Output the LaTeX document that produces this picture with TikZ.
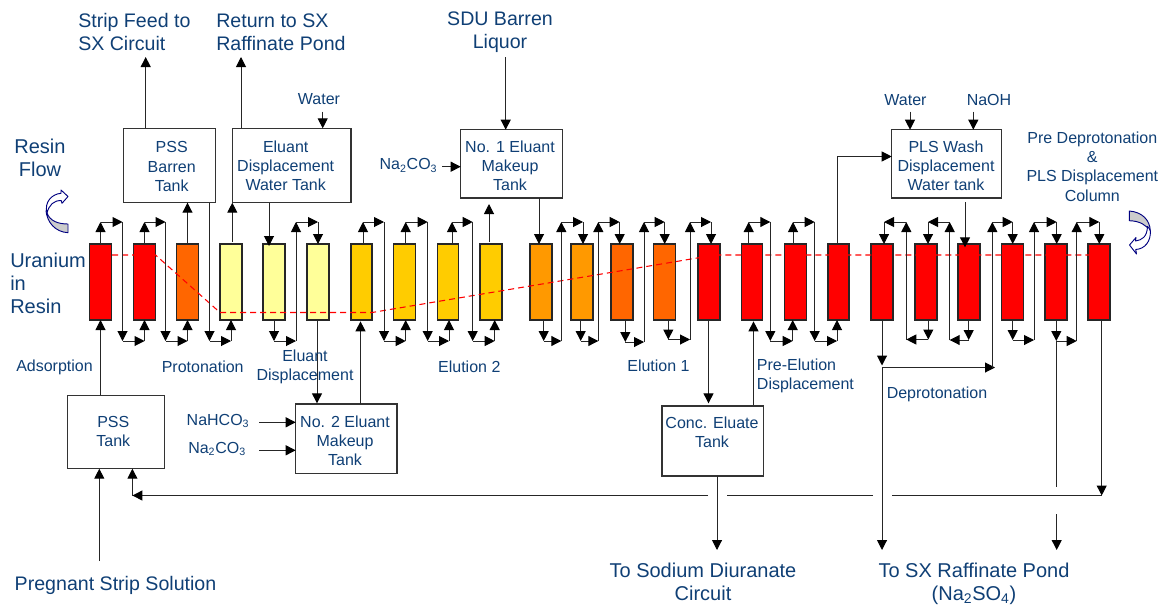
\documentclass[tikz,border=0pt]{standalone}
\usepackage{fontspec}
\setmainfont{Liberation Sans}
\usetikzlibrary{arrows.meta}
\definecolor{lbl}{HTML}{0F3F75}
\definecolor{cOne}{HTML}{FF0000}
\definecolor{cTwo}{HTML}{FF6600}
\definecolor{cThree}{HTML}{FF9900}
\definecolor{cFour}{HTML}{FFCC00}
\definecolor{cFive}{HTML}{FFFF99}
\definecolor{ribbon}{HTML}{CCCCCC}
\definecolor{navy}{HTML}{000080}
\tikzset{
  seg/.style={draw=black!85,line width=0.75pt,-{Triangle[length=7.5pt,width=7.5pt,fill=black,color=black]}},
  plainseg/.style={draw=black!85,line width=0.75pt},
  colbox/.style={draw=black!85,line width=0.85pt,inner sep=0pt,outer sep=0pt,minimum height=57pt},
  tankbox/.style={draw=black!80,fill=white,line width=0.8pt,inner sep=0pt,outer sep=0pt},
  big/.style={text=lbl,align=center,inner sep=0pt,font=\fontsize{15}{17.25}\selectfont},
  bigb/.style={text=lbl,align=center,inner sep=0pt,font=\fontsize{14.7}{17.25}\selectfont},
  small/.style={text=lbl,align=center,inner sep=0pt,font=\fontsize{12}{14.4}\selectfont},
  curve/.style={draw=navy,line width=0.7pt,line join=round}
}
\newcommand{\resincol}[4]{\node[colbox,fill=#4,minimum width={(#3-#2)*0.75pt}] (#1) at ({(#2+#3)/2},282) {};}
\newcommand{\tank}[5]{\node[tankbox,minimum width={(#4-#2)*0.75pt},minimum height={(#5-#3)*0.75pt}] (#1) at ({(#2+#4)/2},{(#3+#5)/2}) {};}
% top of #1 -> over -> down -> bottom of #5
\newcommand{\overlink}[4]{%
  \draw[seg] (#2,0 |- #1.north) -- (#2,222);
  \draw[seg] (#2,222) -- (#3,222);
  \draw[seg] (#3,222) -- (#3,341);
  \draw[seg] (#3,341) -- (#4,341);}
% bottom of #1 -> under -> up -> top of next
\newcommand{\underlink}[6]{%
  \draw[seg] (#2,0 |- #1.south) -- (#2,#6);
  \draw[seg] (#2,#6) -- (#3,#6);
  \draw[seg] (#3,#6) -- (#3,222);
  \draw[seg] (#3,222) -- (#4,222);
  \draw[seg] (#4,222) -- (#4,0 |- #5.north);}
\begin{document}
\begin{tikzpicture}[x=0.75pt,y=-0.75pt]
\useasboundingbox (0,0) rectangle (1169,604);
% columns
\resincol{c1}{89.5}{111.5}{cOne}
\resincol{c2}{133.5}{155.5}{cOne}
\resincol{c3}{176.5}{198.5}{cTwo}
\resincol{c4}{220}{242}{cFive}
\resincol{c5}{263}{285}{cFive}
\resincol{c6}{307}{329}{cFive}
\resincol{c7}{351}{372}{cFour}
\resincol{c8}{393.5}{415.5}{cFour}
\resincol{c9}{437.5}{458.5}{cFour}
\resincol{c10}{480}{502}{cFour}
\resincol{c11}{530}{552}{cThree}
\resincol{c12}{571}{593}{cThree}
\resincol{c13}{611}{633}{cTwo}
\resincol{c14}{653.5}{675.5}{cTwo}
\resincol{c15}{698}{720}{cOne}
\resincol{c16}{741.5}{762.5}{cOne}
\resincol{c17}{784.5}{806.5}{cOne}
\resincol{c18}{828}{849}{cOne}
\resincol{c19}{871}{893}{cOne}
\resincol{c20}{915}{937}{cOne}
\resincol{c21}{958}{980}{cOne}
\resincol{c22}{1001.5}{1023.5}{cOne}
\resincol{c23}{1045}{1067}{cOne}
\resincol{c24}{1088}{1110}{cOne}
% tanks
\tank{pbt}{123.7}{128.3}{215.3}{202.7}
\tank{edt}{232.3}{128.3}{351}{202.7}
\tank{no1}{460.7}{129.7}{562.3}{198}
\tank{pls}{891.7}{129.7}{1001.7}{198}
\tank{pss}{67.7}{395.3}{164.3}{468.7}
\tank{no2}{295.7}{404}{397}{473.7}
\tank{con}{662}{406}{763.7}{476}
% dashed profile
\coordinate (d1) at (112,255);
\coordinate (d2) at (155.5,255);
\coordinate (d3) at (220,312.5);
\coordinate (d4) at (372,312.5);
\coordinate (d5) at (715,255);
\coordinate (d6) at (1100,255);
\draw[cOne,line width=0.8pt,dash pattern=on 4.5pt off 3pt] (d1) -- (d2) -- (d3) -- (d4) -- (d5) -- (d6);
% column to column links
\overlink{c1}{100.5}{122.5}{144.5}
\draw[seg] (144.5,341) -- (144.5,0 |- c2.south);
\overlink{c2}{144.5}{165.5}{187.5}
\draw[seg] (187.5,341) -- (187.5,0 |- c3.south);
\draw[seg] (187.5,0 |- c3.north) -- (187.5,0 |- pbt.south);
\draw[seg] (209.5,0 |- pbt.south) -- (209.5,341);
\draw[seg] (209.5,341) -- (231,341);
\draw[seg] (231,341) -- (231,0 |- c4.south);
\draw[seg,shorten <=1.5pt] (232.3,0 |- c4.north) -- (232.3,0 |- edt.south);
\draw[seg,shorten >=-1.5pt] (269,0 |- edt.south) -- (269,0 |- c5.north);
\underlink{c5}{274}{296}{318}{c6}{341}
\draw[seg,shorten >=0.5pt] (317,0 |- c6.south) -- (317,0 |- no2.north);
\draw[seg,shorten >=1pt] (360.5,0 |- no2.north) -- (360.5,0 |- c7.south);
\overlink{c7}{363}{384}{405.7}
\draw[seg] (405.7,341) -- (405.7,0 |- c8.south);
\overlink{c8}{405.7}{427.7}{449}
\draw[seg] (449,341) -- (449,0 |- c9.south);
\overlink{c9}{452}{472.7}{494.7}
\draw[seg] (494.7,341) -- (494.7,0 |- c10.south);
\draw[seg,shorten <=1.5pt,shorten >=4.5pt] (489,0 |- c10.north) -- (489,0 |- no1.south);
\draw[seg] (539,0 |- no1.south) -- (539,0 |- c11.north);
\underlink{c11}{543.7}{561.3}{583}{c12}{341}
\underlink{c12}{580.7}{598.3}{619.7}{c13}{341}
\underlink{c13}{625.3}{644}{664.7}{c14}{342}
\underlink{c14}{668.3}{690}{711}{c15}{339.5}
\draw[seg,shorten >=2pt] (708.5,0 |- c15.south) -- (708.5,0 |- con.north);
\draw[seg,shorten <=1pt,shorten >=1pt] (753.5,0 |- con.north) -- (753.5,0 |- c16.south);
\overlink{c16}{748.7}{770.3}{792.7}
\draw[seg] (792.7,341) -- (792.7,0 |- c17.south);
\overlink{c17}{793}{814.7}{837}
\draw[seg] (837,341) -- (837,0 |- c18.south);
\draw[plainseg] (837,0 |- c18.north) |- (pls.west |- 0,156.5) coordinate (plsin);
\draw[seg] (845,156.5) -- (plsin);
\underlink{c20}{928.3}{906.3}{884}{c19}{339.5}
\underlink{c21}{968.7}{949.7}{928}{c20}{340}
\draw[seg,shorten >=-2.5pt,shorten <=3pt] (965,0 |- pls.south) -- (965,0 |- c21.north);
\coordinate (split) at (882,367.5);
\draw[seg,shorten >=1.5pt] (882,0 |- c19.south) -- (split);
\draw[seg] (split) -- (882,550);
\draw[seg] (split) -- (995,367.5);
\draw[seg] (992.3,367.5) -- (992.3,222);
\draw[seg] (992.3,222) -- (1012.7,222);
\draw[seg] (1012.7,222) -- (1012.7,0 |- c22.north);
\underlink{c22}{1012.7}{1034}{1056.7}{c23}{340}
\underlink{c23}{1056.3}{1076.7}{1099.3}{c24}{341}
% bottom return
\coordinate (drop) at (1056.7,341);
\coordinate (dropa) at (1056.7,487);
\coordinate (dropb) at (1056.7,514);
\coordinate (dropc) at (1056.7,550);
\draw[plainseg] (drop) -- (dropa);
\draw[seg] (dropb) -- (dropc);
\coordinate (retr) at (1101.7,495.5);
\draw[seg] (1101.7,0 |- c24.south) -- (retr);
\draw[plainseg] (retr) -- (891.7,495.5);
\draw[plainseg] (873,495.5) -- (727,495.5);
\coordinate (retl) at (132.4,495.5);
\draw[seg] (708,495.5) -- (retl);
\draw[seg] (retl) -- (132.4,0 |- pss.south);
\draw[seg] (717,0 |- con.south) -- (717,550);
\draw[seg] (100.5,0 |- pss.north) -- (100.5,0 |- c1.south);
\coordinate (pregs) at (99.3,561);
\draw[seg] (pregs) -- (pregs |- pss.south);
% tank outlets and feeds
\draw[seg] (145.7,0 |- pbt.north) -- (145.7,57);
\draw[seg] (241,0 |- edt.north) -- (241,57);
\coordinate (wa) at (322.7,111.7);
\draw[seg] (wa) -- (wa |- edt.north);
\coordinate (sdu) at (505.7,57);
\draw[seg] (sdu) -- (sdu |- no1.north);
\coordinate (nac) at (442.3,166.7);
\draw[seg] (nac) -- (nac -| no1.west);
\coordinate (wb) at (910,111.7);
\draw[seg] (wb) -- (wb |- pls.north);
\coordinate (nh) at (973.3,111.7);
\draw[seg] (nh) -- (nh |- pls.north);
\coordinate (fa) at (259.3,422.3);
\draw[seg] (fa) -- (fa -| no2.west);
\coordinate (fb) at (259.3,450.3);
\draw[seg] (fb) -- (fb -| no2.west);
% resin flow arrows
\draw[curve,fill=ribbon] (46,210.7) .. controls (47,222) and (55,232) .. (68,232.7) -- (68,224) .. controls (58,224) and (50,221) .. (47,213) -- cycle;
\draw[curve,fill=white] (47,213) .. controls (44,202) and (52,194) .. (61,193.3) -- (61,190) -- (68,196.5) -- (62,203.3) -- (61.3,200.7) .. controls (54,200) and (49,205) .. (47,213) -- cycle;
\draw[curve,fill=ribbon] (1129.3,211) .. controls (1142,212) and (1150,220) .. (1150.3,231) .. controls (1146,225) and (1140,221) .. (1129.3,220.7) -- cycle;
\draw[curve,fill=white] (1150.3,231) .. controls (1151,241) and (1145,249) .. (1135.7,249.5) -- (1136.5,254) -- (1129.5,245) -- (1136,237.5) -- (1135.5,241) .. controls (1142,240) and (1147,237) .. (1147.5,226.5) .. controls (1149,228) and (1150,229.5) .. (1150.3,231) -- cycle;
% labels
\node[bigb,anchor=west] (t1) at (78,34) {\begin{tabular}{@{}l@{}}Strip Feed to\\SX Circuit\end{tabular}};
\node[bigb,anchor=west] (t2) at (216,34) {\begin{tabular}{@{}l@{}}Return to SX\\Raffinate Pond\end{tabular}};
\node[bigb] (t3) at (500,32) {SDU Barren\\Liquor};
\node[big] (t4) at (40,157.5) {Resin\\Flow};
\node[big,align=left,anchor=west] (t5) at (10,283) {Uranium\\in\\Resin};
\node[bigb] (t6) at (115.5,585) {Pregnant Strip Solution};
\node[big] (t7) at (703,581.5) {To Sodium Diuranate\\Circuit};
\node[big] (t8) at (974,583.5) {To SX Raffinate Pond\\(Na\textsubscript{2}SO\textsubscript{4})};
\node[small] (s1) at (319,99.5) {Water};
\node[small] (s2) at (171.7,166.5) {PSS\\Barren\\Tank};
\node[small] (s3) at (285.7,165.5) {Eluant\\Displacement\\Water Tank};
\node[small] (s4) at (408.5,165.5) {Na\textsubscript{2}CO\textsubscript{3}};
\node[small] (s5) at (510,165.5) {No. 1 Eluant\\Makeup\\Tank};
\node[small] (s6) at (905.5,99.7) {Water};
\node[small] (s7) at (989,99.7) {NaOH};
\node[small] (s8) at (946,165.5) {PLS Wash\\Displacement\\Water tank};
\node[small] (s9) at (1092.3,166.5) {Pre Deprotonation\\\&\\PLS Displacement\\Column};
\node[small] (s10) at (54.5,367) {Adsorption};
\node[small] (s11) at (202.7,367) {Protonation};
\node[small] (s12) at (305,367) {Eluant\\Displacement};
\node[small] (s13) at (469.3,366.5) {Elution 2};
\node[small] (s14) at (658.5,366) {Elution 1};
\node[small,align=left,anchor=west] (s15) at (756.7,376) {Pre-Elution\\Displacement};
\node[small] (s16) at (937,394) {Deprotonation};
\node[small] (s17) at (712,432.5) {Conc. Eluate\\Tank};
\node[small] (s18) at (113.3,431.5) {PSS\\Tank};
\node[small] (s19) at (218,421) {NaHCO\textsubscript{3}};
\node[small,anchor=west] (s20) at (188,449) {Na\textsubscript{2}CO\textsubscript{3}};
\node[small] (s21) at (345,440.5) {No. 2 Eluant\\Makeup\\Tank};
\end{tikzpicture}
\end{document}
